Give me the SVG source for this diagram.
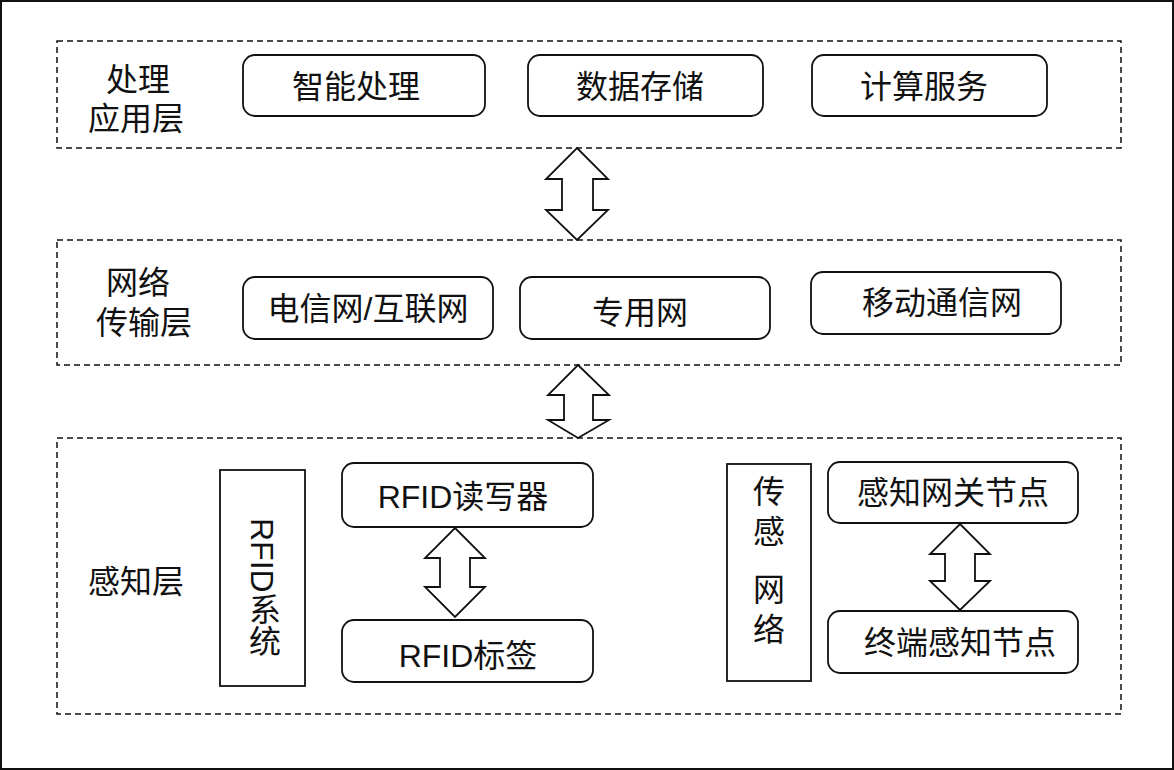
<svg xmlns="http://www.w3.org/2000/svg" width="1174" height="770" viewBox="0 0 1174 770">
<style>
text{font-family:"Liberation Sans","Noto Sans CJK SC",sans-serif;font-size:32px;fill:#111}
.lay{fill:none;stroke:#111;stroke-width:1.5;stroke-dasharray:6 4}
.n{fill:#fff;stroke:#111;stroke-width:1.8}
.ar{fill:#fff;stroke:#111;stroke-width:1.8;stroke-linejoin:miter}
.c{text-anchor:middle}
</style>
<rect x="1" y="1" width="1172" height="768" fill="#fff" stroke="#111" stroke-width="2"/>
<g id="layers">
<rect class="lay" x="57" y="41" width="1064" height="107"/>
<rect class="lay" x="57" y="240" width="1064" height="125"/>
<rect class="lay" x="57" y="438" width="1064" height="276"/>
<text x="106" y="91">处理</text><text x="88" y="130">应用层</text>
<text x="106" y="294">网络</text><text x="96" y="334">传输层</text>
<text x="88" y="593">感知层</text>
</g>
<g id="n1"><rect class="n" x="243" y="55" width="242" height="61" rx="12"/><text class="c" x="356" y="98">智能处理</text></g>
<g id="n2"><rect class="n" x="528" y="55" width="235" height="61" rx="12"/><text class="c" x="640" y="98">数据存储</text></g>
<g id="n3"><rect class="n" x="812" y="55" width="235" height="61" rx="12"/><text class="c" x="924" y="98">计算服务</text></g>
<g id="n4"><rect class="n" x="243" y="277" width="250" height="62" rx="12"/><text class="c" x="368" y="320">电信网/互联网</text></g>
<g id="n5"><rect class="n" x="520" y="277" width="250" height="62" rx="12"/><text class="c" x="640" y="324">专用网</text></g>
<g id="n6"><rect class="n" x="811" y="272" width="250" height="62" rx="12"/><text class="c" x="942" y="314">移动通信网</text></g>
<g id="n7"><rect class="n" x="220" y="470" width="85" height="216"/><text x="262" y="518" style="writing-mode:vertical-rl;text-orientation:mixed">RFID系统</text></g>
<g id="n8"><rect class="n" x="342" y="463" width="251" height="64" rx="12"/><text class="c" x="463" y="508">RFID读写器</text></g>
<g id="n9"><rect class="n" x="342" y="620" width="251" height="62" rx="12"/><text class="c" x="468" y="667">RFID标签</text></g>
<g id="n10"><rect class="n" x="727" y="464" width="84" height="217"/><text class="c" x="769" y="503">传</text><text class="c" x="769" y="543">感</text><text class="c" x="769" y="601">网</text><text class="c" x="769" y="641">络</text></g>
<g id="n11"><rect class="n" x="828" y="462" width="250" height="61" rx="12"/><text class="c" x="953" y="504">感知网关节点</text></g>
<g id="n12"><rect class="n" x="828" y="611" width="250" height="62" rx="12"/><text class="c" x="960" y="654">终端感知节点</text></g>
<g id="connectors">
<polygon class="ar" points="577,148 608,179 593,179 593,210 608,210 577,240 546,210 562,210 562,179 546,179"/>
<polygon class="ar" points="578,365 609,395 593,395 593,420 609,420 578,438 548,420 564,420 564,395 548,395"/>
<polygon class="ar" points="455,528 485,558 470,558 470,587 485,587 455,617 425,587 440,587 440,558 425,558"/>
<polygon class="ar" points="960,524 990,554 975,554 975,581 990,581 960,610 930,581 945,581 945,554 930,554"/>
</g>
</svg>
